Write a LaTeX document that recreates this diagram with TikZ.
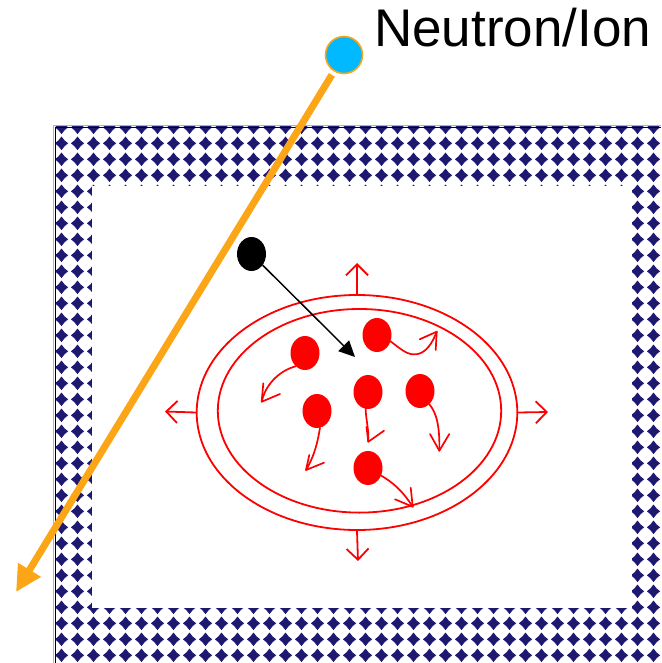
\documentclass[tikz,border=0pt]{standalone}
\usepackage{fontspec}
\setmainfont{Liberation Sans}
\usetikzlibrary{shapes.geometric,arrows.meta}
\definecolor{navy}{RGB}{30,25,112}
\definecolor{orng}{RGB}{252,165,22}
\definecolor{cyanb}{RGB}{0,185,255}
\tikzset{
  ball/.style={ellipse, fill=red, draw=none, minimum width=29pt, minimum height=34pt, inner sep=0pt},
  ring/.style={ellipse, draw=red, line width=1.8pt, inner sep=0pt},
  outarrow/.style={draw=red, line width=1.8pt, -{Straight Barb[length=11pt,width=22pt,line width=1.8pt]}},
  tail/.style={draw=red, line width=1.7pt, line cap=round, line join=round},
}
\begin{document}
\begin{tikzpicture}[x=1pt,y=-1pt]
\useasboundingbox (0,0) rectangle (661,663);
% patterned frame
\begin{scope}
\clip (55,127) rectangle (661,663);
\foreach \i in {0,...,37}{\foreach \j in {0,...,33}{
  \fill[navy, shift={({61.5+16*\i},{127.3+16*\j})}] (-6.6,0) -- (-3,-3) -- (0,-6.8) -- (3,-3) -- (6.6,0) -- (3,3) -- (0,6.8) -- (-3,3) -- cycle;
}}
\fill[white] (92,186) rectangle (632,608);
\end{scope}
\draw[gray!60, line width=1pt] (53.2,663) -- (53.2,125.2) -- (661,125.2);
\draw[black, line width=1.8pt] (55.5,663) -- (55.5,127.5) -- (661,127.5);
% rings
\node[ring, minimum width=320.6pt, minimum height=235pt] (outer) at (357,412.5) {};
\node[ring, minimum width=283.4pt, minimum height=203.6pt] (inner) at (359.5,410.8) {};
\coordinate (tn) at (357,263);
\coordinate (tw) at (165,411.5);
\coordinate (te) at (548,412);
\coordinate (ts) at (358,561);
\draw[outarrow] (outer.north) -- (tn);
\draw[outarrow] (outer.west) -- (tw);
\draw[outarrow] (outer.east) -- (te);
\draw[outarrow] (outer.south) -- (ts);
% red balls
\node[ball] (b1) at (305,353) {};
\node[ball] (b2) at (377,335) {};
\node[ball] (b3) at (317,411) {};
\node[ball] (b4) at (368,392) {};
\node[ball] (b5) at (420,391) {};
\node[ball] (b6) at (368,468) {};
% tails
\coordinate (t1) at (261.7,401.7);
\draw[tail] (b1.235) .. controls (278,371) and (265,386) .. (t1);
\draw[tail] (263.3,383.3) -- (t1) -- (280,394);
\coordinate (t2) at (436.7,331.7);
\draw[tail] (b2.335) .. controls (402,350) and (408,356) .. (418,354) .. controls (426,352) and (432,344) .. (t2);
\draw[tail] (419.7,339.3) -- (t2) -- (435.7,350);
\coordinate (t3) at (306,470);
\draw[tail] (b3.280) .. controls (318,440) and (315,455) .. (t3);
\draw[tail] (309.3,455) -- (t3) -- (324,462.7);
\coordinate (t4) at (368.3,441.7);
\draw[tail] (b4.262) .. controls (366,420) and (369,430) .. (t4);
\draw[tail] (366.5,427) -- (t4) -- (384,430.7);
\coordinate (t5) at (439.3,450.7);
\draw[tail] (b5.305) .. controls (436,412) and (440,425) .. (t5);
\draw[tail] (430,434) -- (t5) -- (449.3,434);
\coordinate (t6) at (412.7,506.7);
\draw[tail] (b6.330) .. controls (392,482) and (402,490) .. (t6);
\draw[tail] (395,499.3) -- (t6) -- (410.7,487.7);
% black ball
\node[ellipse, fill=black, minimum width=29pt, minimum height=34pt, inner sep=0pt] (bb) at (251.5,254) {};
\coordinate (ba) at (355,357);
\draw[black, line width=1.5pt, -{Triangle[length=16pt,width=15pt]}] (bb.-45) -- (ba);
% neutron
\node[circle, fill=cyanb, draw=orng, line width=1.6pt, minimum size=37pt, inner sep=0pt] (nt) at (344,55) {};
\coordinate (ot) at (16,592);
\draw[orng, line width=7pt, shorten <=4pt, -{Triangle[length=26pt,width=25pt]}] (nt) -- (ot);
\node[anchor=base west, inner sep=0pt, font=\fontsize{53}{60}\selectfont] (lbl) at (374,47) {Neutron/Ion};
\end{tikzpicture}
\end{document}
